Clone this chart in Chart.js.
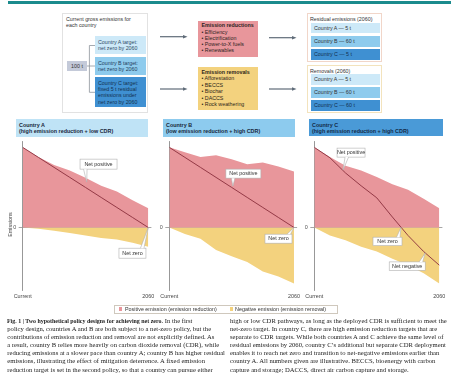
<!DOCTYPE html>
<html><head><meta charset="utf-8">
<script src="https://cdn.jsdelivr.net/npm/chart.js@4.4.1/dist/chart.umd.min.js"></script>
<style>
html,body{margin:0;padding:0;background:#fff;}
#root{position:relative;width:455px;height:380px;overflow:hidden;font-family:"Liberation Sans",Arial,sans-serif;color:#333;}
.a{position:absolute;box-sizing:border-box;}
.t{font-size:5.3px;line-height:6.4px;white-space:nowrap;}
.hdr{font-weight:bold;font-size:5.4px;line-height:6.6px;padding:2.6px 0 0 3px;color:#18273a;white-space:nowrap;}
.ib{font-size:5.3px;line-height:10.6px;padding-left:3.5px;white-space:nowrap;}
canvas{position:absolute;}
.cap{position:absolute;font-family:"Liberation Serif","Times New Roman",serif;font-size:6.3px;line-height:8.1px;color:#222;white-space:nowrap;}
.cap div{height:8.1px;}
.cap div > span.ln{display:inline-block;}
.leg{font-size:5.4px;line-height:9px;white-space:nowrap;color:#333;}
.sq{position:absolute;width:3.6px;height:3.6px;top:2.6px;}
</style></head>
<body>
<div id="root">
  <!-- top rule -->
  <div class="a" style="left:8px;top:1px;width:443px;height:3px;background:#1b8b8d;"></div>

  <!-- left box -->
  <div class="a" style="left:62px;top:13px;width:86px;height:100px;border:1px solid #e2e2e2;"></div>
  <div class="a t" style="left:66px;top:15.5px;color:#333;">Current gross emissions for<br>each country</div>
  <div class="a t" style="left:67px;top:61px;width:20px;height:10px;background:#c4cad9;text-align:center;line-height:10px;">100 t</div>
  <div class="a t" style="left:95px;top:36px;width:51px;height:18px;background:#cde9f8;padding:2.6px 0 0 3px;color:#2f4b66;">Country A target:<br>net zero by 2060</div>
  <div class="a t" style="left:95px;top:57px;width:51px;height:18px;background:#8ecbed;padding:2.6px 0 0 3px;color:#24405c;">Country B target:<br>net zero by 2060</div>
  <div class="a t" style="left:95px;top:77px;width:51px;height:30px;background:#3f90d2;padding:2.6px 0 0 3px;color:#14304f;">Country C target:<br>fixed 5 t residual<br>emissions under<br>net zero by 2060</div>

  <!-- middle boxes -->
  <div class="a t" style="left:198px;top:21px;width:60px;height:36px;background:#e8969b;padding:1.3px 0 0 3.5px;color:#2d1f22;line-height:6.3px;"><b>Emission reductions</b><br>• Efficiency<br>• Electrification<br>• Power-to-X fuels<br>• Renewables</div>
  <div class="a t" style="left:198px;top:67px;width:60px;height:43px;background:#f3d27e;padding:2px 0 0 3.5px;color:#2d2618;line-height:6.45px;"><b>Emission removals</b><br>• Afforestation<br>• BECCS<br>• Biochar<br>• DACCS<br>• Rock weathering</div>

  <!-- right boxes -->
  <div class="a" style="left:307px;top:13px;width:75px;height:49px;border:1px solid #f1d6c9;"></div>
  <div class="a t" style="left:310px;top:15.8px;">Residual emissions (2060)</div>
  <div class="a ib" style="left:310.5px;top:22.7px;width:69.5px;height:10.6px;background:#cde9f8;">Country A — 5 t</div>
  <div class="a ib" style="left:310.5px;top:36px;width:69.5px;height:10.7px;background:#8ecbed;">Country B — 60 t</div>
  <div class="a ib" style="left:310.5px;top:49px;width:69.5px;height:11px;background:#3f90d2;color:#14304f;">Country C — 5 t</div>

  <div class="a" style="left:307px;top:65px;width:75px;height:48px;border:1px solid #f3e3bd;"></div>
  <div class="a t" style="left:310px;top:67.5px;">Removals (2060)</div>
  <div class="a ib" style="left:310.5px;top:74px;width:69.5px;height:11px;background:#cde9f8;">Country A — 5 t</div>
  <div class="a ib" style="left:310.5px;top:87.3px;width:69.5px;height:10.4px;background:#8ecbed;">Country B — 60 t</div>
  <div class="a ib" style="left:310.5px;top:100px;width:69.5px;height:10.7px;background:#3f90d2;color:#14304f;">Country C — 60 t</div>

  <svg class="a" style="left:0;top:0;" width="455" height="120">
    <g stroke="#8d949c" stroke-width="0.8" fill="none">
      <line x1="87" y1="66" x2="89.4" y2="66"/>
      <line x1="89.4" y1="45.5" x2="89.4" y2="92.3"/>
      <line x1="89.4" y1="45.5" x2="95" y2="45.5"/>
      <line x1="89.4" y1="66" x2="95" y2="66"/>
      <line x1="89.4" y1="92.3" x2="95" y2="92.3"/>
    </g>
    <g stroke="#5f6b78" stroke-width="1.2">
      <line x1="160" y1="36.7" x2="184" y2="36.7"/>
      <line x1="160" y1="89" x2="184" y2="89"/>
      <line x1="269" y1="37.7" x2="293" y2="37.7"/>
      <line x1="269" y1="89" x2="293" y2="89"/>
    </g>
    <g fill="#5f6b78">
      <polygon points="183,35 187.5,36.7 183,38.4"/>
      <polygon points="183,87.3 187.5,89 183,90.7"/>
      <polygon points="292,36 296.5,37.7 292,39.4"/>
      <polygon points="292,87.3 296.5,89 292,90.7"/>
    </g>
  </svg>

  <!-- panel headers -->
  <div class="a hdr" style="left:16px;top:119px;width:132px;height:17.5px;background:#bfe3f6;">Country A<br>(high emission reduction + low CDR)</div>
  <div class="a hdr" style="left:163px;top:119px;width:132px;height:18px;background:#8dcbee;">Country B<br>(low emission reduction + high CDR)</div>
  <div class="a hdr" style="left:309px;top:119px;width:134px;height:17px;background:#4a9ad7;color:#132a47;">Country C<br>(high emission reduction + high CDR)</div>

  <canvas id="cA" width="160" height="176" style="left:0px;top:136px;"></canvas>
  <canvas id="cB" width="155" height="176" style="left:150px;top:136px;"></canvas>
  <canvas id="cC" width="159" height="176" style="left:296px;top:136px;"></canvas>

  <!-- legend -->
  <div class="a" style="left:114px;top:304.5px;width:224px;height:9px;border:0.6px solid #cfc8bd;"></div>
  <div class="a leg" id="leg1" style="left:118px;top:304.5px;width:108px;height:9px;"><span class="sq" style="left:0.5px;background:#e8969b;"></span><span style="position:absolute;left:7px;"></span></div>
  <div class="a leg" id="leg2" style="left:229px;top:304.5px;width:108px;height:9px;"><span class="sq" style="left:0.5px;background:#f3d27e;"></span><span style="position:absolute;left:6px;"></span></div>

  <!-- caption -->
  <div class="cap" style="left:7.3px;top:317px;">
    <div><span class="ln"><span id="capBold" style="font-weight:bold;display:inline-block;transform-origin:0 50%;">Fig. 1 | Two hypothetical policy designs for achieving net zero.</span> In the first</span></div>
    <div><span class="ln" id="capL2">policy design, countries A and B are both subject to a net-zero policy, but the</span></div>
    <div><span class="ln">contributions of emission reduction and removal are not explicitly defined. As</span></div>
    <div><span class="ln">a result, country B relies more heavily on carbon dioxide removal (CDR), while</span></div>
    <div><span class="ln">reducing emissions at a slower pace than country A; country B has higher residual</span></div>
    <div><span class="ln">emissions, illustrating the effect of mitigation deterrence. A fixed emission</span></div>
    <div><span class="ln">reduction target is set in the second policy, so that a country can pursue either</span></div>
  </div>
  <div class="cap" style="left:230px;top:317px;">
    <div><span class="ln">high or low CDR pathways, as long as the deployed CDR is sufficient to meet the</span></div>
    <div><span class="ln">net-zero target. In country C, there are high emission reduction targets that are</span></div>
    <div><span class="ln">separate to CDR targets. While both countries A and C achieve the same level of</span></div>
    <div><span class="ln">residual emissions by 2060, country C’s additional but separate CDR deployment</span></div>
    <div><span class="ln">enables it to reach net zero and transition to net-negative emissions earlier than</span></div>
    <div><span class="ln">country A. All numbers given are illustrative. BECCS, bioenergy with carbon</span></div>
    <div><span class="ln">capture and storage; DACCS, direct air carbon capture and storage.</span></div>
  </div>
</div>

<script>
// ---------------- DATA ----------------
const periods = ['Current', '', '', '', '', '', '', '', '2060'];
const seriesNames = ['Positive emission (emission reduction)', 'Negative emission (emission removal)', 'Net emissions'];

const grossA   = [100, 88, 78, 71, 62, 52, 45, 34, 24];
const removalA = [0, -1.5, -4, -7, -10, -13, -15, -19, -24];
const netA     = [100, 87.5, 75, 62.5, 50, 37.5, 25, 12.5, 0];

const grossB   = [100, 94, 88, 90, 85, 79, 81, 76, 70];
const removalB = [0, -8, -14, -28, -36, -43, -55, -61, -70];
const netB     = [100, 87.5, 75, 62.5, 50, 37.5, 25, 12.5, 0];

const grossC   = [100, 88, 77, 71, 63, 54, 47, 36, 24];
const removalC = [0, -10, -16, -24, -30, -39, -47, -57, -70];
const netC     = [100, 87, 68, 52, 37, 13, -10, -30, -47];

const yTickValues = [0];
// --------------------------------------

const PINK = '#e8969b', YELLOW = '#f3d27e', NETLINE = '#8a2f3c';
const FONT = '"Liberation Sans", Arial, sans-serif';

document.querySelector('#leg1 span:last-child').textContent = seriesNames[0];
document.querySelector('#leg2 span:last-child').textContent = seriesNames[1];

const calloutPlugin = {
  id: 'callouts',
  afterDraw(chart, args, opts) {
    const ctx = chart.ctx, xs = chart.scales.x, ys = chart.scales.y;
    ctx.save();
    if (opts.yTitle) {
      ctx.save();
      ctx.translate(chart.chartArea.left - 12.5, ys.getPixelForValue(0) - 3);
      ctx.rotate(-Math.PI / 2);
      ctx.font = '5.4px ' + FONT;
      ctx.fillStyle = '#444';
      ctx.textAlign = 'center'; ctx.textBaseline = 'middle';
      ctx.fillText(opts.yTitle, 0, 0);
      ctx.restore();
    }
    (opts.items || []).forEach(c => {
      const tx = xs.getPixelForValue(c.x), ty = ys.getPixelForValue(c.y);
      const bx = tx + c.dx, by = ty + c.dy;
      ctx.lineWidth = 0.6;
      ctx.strokeStyle = '#b0b0b0';
      ctx.fillStyle = '#fff';
      ctx.fillRect(bx, by, c.w, c.h);
      ctx.strokeRect(bx, by, c.w, c.h);
      const ey = c.side === 'top' ? by : by + c.h;
      const b1 = bx + c.off, b2 = bx + c.off + 3.5;
      ctx.beginPath();
      ctx.moveTo(b1, ey); ctx.lineTo(tx, ty); ctx.lineTo(b2, ey); ctx.closePath();
      ctx.fill();
      ctx.beginPath();
      ctx.moveTo(b1, ey); ctx.lineTo(tx, ty); ctx.lineTo(b2, ey);
      ctx.stroke();
      ctx.fillStyle = '#333';
      ctx.font = '5.4px ' + FONT;
      ctx.textAlign = 'center'; ctx.textBaseline = 'middle';
      ctx.fillText(c.text, bx + c.w / 2, by + c.h / 2 + 0.3);
    });
    ctx.restore();
  }
};

function makeChart(id, gross, removal, net, cfg) {
  const pts = arr => arr.map((v, i) => ({ x: i, y: v }));
  return new Chart(document.getElementById(id), {
    type: 'line',
    data: {
      datasets: [
        { label: seriesNames[2], data: pts(net), borderColor: NETLINE, borderWidth: 0.9, pointRadius: 0, fill: false, tension: 0, order: 0 },
        { label: seriesNames[0], data: pts(gross), borderWidth: 0, borderColor: PINK, backgroundColor: PINK, fill: 'origin', pointRadius: 0, tension: 0, order: 2 },
        { label: seriesNames[1], data: pts(removal), borderWidth: 0, borderColor: YELLOW, backgroundColor: YELLOW, fill: 'origin', pointRadius: 0, tension: 0, order: 2 }
      ]
    },
    options: {
      responsive: false, animation: false, devicePixelRatio: 1,
      layout: { padding: { left: 0, top: 5.7, right: cfg.padRight, bottom: 10 } },
      plugins: { legend: { display: false }, tooltip: { enabled: false }, callouts: { items: cfg.callouts, yTitle: cfg.yTitle } },
      scales: {
        x: {
          type: 'linear', min: 0, max: 8.2,
          grid: { display: false, drawTicks: false, tickLength: 0 }, border: { display: false },
          afterBuildTicks(s) { s.ticks = [{ value: 0 }, { value: periods.length - 1 }]; },
          afterFit(s) { s.height = 12; },
          ticks: { padding: 3, maxRotation: 0, autoSkip: false, font: { size: 5.4, family: FONT }, color: '#444', callback: v => periods[v] }
        },
        y: {
          min: -78, max: 107, z: 1,
          afterBuildTicks(s) { s.ticks = yTickValues.map(v => ({ value: v })); },
          afterFit(s) { s.width = cfg.yWidth; },
          grid: { color: '#8f8f8f', lineWidth: 0.8, tickLength: 4, drawTicks: true },
          border: { display: true, color: '#7d7d7d', width: 0.8 },
          ticks: { padding: 2.5, font: { size: 5.4, family: FONT }, color: '#555' }
        }
      }
    },
    plugins: [calloutPlugin]
  });
}

makeChart('cA', grossA, removalA, netA, {
  yWidth: 22.7, padRight: 8.6, yTitle: 'Emissions',
  callouts: [
    { text: 'Net positive', x: 4.08, y: 56.6, dx: -6.7, dy: -23, w: 37, h: 10, side: 'bottom', off: 3.5 },
    { text: 'Net zero', x: 8, y: 0, dx: -29.3, dy: 20.7, w: 27, h: 10, side: 'top', off: 21.5 }
  ]
});
makeChart('cB', grossB, removalB, netB, {
  yWidth: 19.3, padRight: 7.9,
  callouts: [
    { text: 'Net positive', x: 4.08, y: 51.6, dx: -7, dy: -17, w: 35, h: 9, side: 'bottom', off: 5.5 },
    { text: 'Net zero', x: 8, y: 0, dx: -29, dy: 6.7, w: 27, h: 9, side: 'top', off: 22 }
  ]
});
makeChart('cC', grossC, removalC, netC, {
  yWidth: 18.3, padRight: 12.6,
  callouts: [
    { text: 'Net positive', x: 1.84, y: 71.6, dx: -6, dy: -22, w: 28, h: 9, side: 'bottom', off: 8 },
    { text: 'Net zero', x: 5.55, y: 0, dx: -28, dy: 9.7, w: 29, h: 8.5, side: 'top', off: 23.5 },
    { text: 'Net negative', x: 7.1, y: -31.7, dx: -36, dy: 9, w: 36, h: 8.5, side: 'top', off: 30 }
  ]
});

function fitCaption() {
  const caps = [...document.querySelectorAll('.cap')];
  const lines = [...document.querySelectorAll('.cap span.ln')];
  caps.forEach(c => c.style.fontSize = '10px');
  const maxW = Math.max(...lines.slice(1).map(l => l.getBoundingClientRect().width));
  const fs = 10 * 218 / maxW;
  caps.forEach(c => c.style.fontSize = fs + 'px');
  const l2 = document.getElementById('capL2').getBoundingClientRect().width;
  const b = document.getElementById('capBold');
  const bw = b.getBoundingClientRect().width;
  const target = 0.765 * l2;
  const k = Math.min(1, target / bw);
  b.style.transform = 'scaleX(' + k + ')';
  b.style.marginRight = (bw * k - bw) + 'px';
}
fitCaption();
</script>
</body></html>
